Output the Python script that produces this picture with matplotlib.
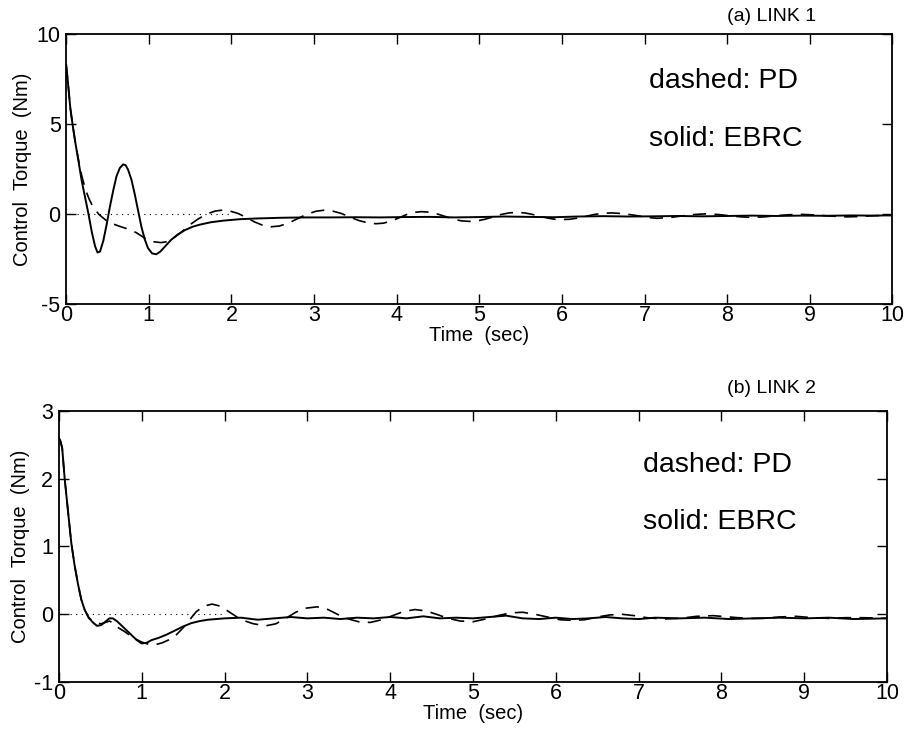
import matplotlib
matplotlib.use("Agg")
import matplotlib.pyplot as plt

plt.rcParams['font.family'] = ['Liberation Sans', 'DejaVu Sans']
plt.rcParams['axes.unicode_minus'] = False

# ---- data ----
# (a) LINK 1, solid: EBRC
t_ebrc1 = [0, 0.02, 0.05, 0.08, 0.11, 0.15, 0.19, 0.23, 0.27, 0.31, 0.35, 0.38, 0.41,
           0.45, 0.49, 0.53, 0.57, 0.61, 0.65, 0.69, 0.72, 0.75, 0.79, 0.83, 0.87, 0.91,
           0.95, 0.99, 1.04, 1.09, 1.14, 1.2, 1.27, 1.35, 1.44, 1.53, 1.62, 1.75, 1.9,
           2.1, 2.3, 2.6, 2.9, 3.2, 3.5, 3.8, 4.1, 4.4, 4.7, 5.0, 5.3, 5.6, 5.9, 6.2,
           6.5, 6.8, 7.1, 7.4, 7.7, 8.0, 8.3, 8.6, 8.9, 9.2, 9.5, 9.8, 10.0]
ebrc1 = [8.3, 7.4, 5.9, 4.9, 4.0, 2.9, 1.8, 0.9, 0.0, -1.0, -1.8, -2.15, -2.1,
         -1.5, -0.6, 0.4, 1.3, 2.1, 2.55, 2.75, 2.7, 2.45, 1.9, 1.1, 0.2, -0.7,
         -1.4, -1.9, -2.2, -2.25, -2.1, -1.8, -1.45, -1.15, -0.9, -0.72, -0.6, -0.47, -0.38,
         -0.3, -0.26, -0.22, -0.2, -0.2, -0.19, -0.2, -0.18, -0.17, -0.2, -0.18, -0.15, -0.17, -0.19, -0.15,
         -0.13, -0.15, -0.14, -0.12, -0.14, -0.12, -0.1, -0.12, -0.1, -0.11, -0.09, -0.1, -0.08]

# (a) LINK 1, dashed: PD
t_pd1 = [0, 0.02, 0.05, 0.08, 0.11, 0.15, 0.19, 0.23, 0.28, 0.33, 0.4, 0.48, 0.56, 0.65,
         0.75, 0.85, 0.95, 1.05, 1.15, 1.22, 1.3, 1.4, 1.5, 1.6, 1.7, 1.8, 1.88,
         1.98, 2.08, 2.18, 2.28, 2.38, 2.48, 2.58, 2.69, 2.8, 2.91, 3.02, 3.12,
         3.22, 3.33, 3.43, 3.54, 3.65, 3.75, 3.84, 3.93, 4.03, 4.12, 4.21, 4.3,
         4.4, 4.5, 4.59, 4.69, 4.78, 4.88, 4.98, 5.07, 5.17, 5.26, 5.36, 5.45,
         5.55, 5.64, 5.73, 5.82, 5.91, 6.0, 6.1, 6.2, 6.3, 6.4, 6.5, 6.6,
         6.75, 6.88, 7.02, 7.15, 7.3, 7.45, 7.6, 7.75, 7.9, 8.03, 8.17, 8.3,
         8.45, 8.6, 8.75, 8.9, 9.05, 9.2, 9.35, 9.45, 9.6, 9.8, 10.0]
pd1 = [8.3, 7.4, 5.9, 4.9, 4.0, 3.0, 2.1, 1.4, 0.8, 0.35, -0.05, -0.35, -0.55, -0.7,
       -0.85, -1.05, -1.35, -1.55, -1.6, -1.55, -1.35, -1.0, -0.6, -0.28, -0.02, 0.15, 0.2,
       0.16, 0.02, -0.2, -0.45, -0.64, -0.72, -0.68, -0.52, -0.27, -0.03, 0.14, 0.2,
       0.16, 0.02, -0.17, -0.37, -0.5, -0.55, -0.52, -0.41, -0.22, -0.04, 0.08, 0.12,
       0.09, -0.02, -0.15, -0.29, -0.39, -0.42, -0.39, -0.3, -0.17, -0.04, 0.05, 0.08,
       0.05, -0.03, -0.13, -0.23, -0.3, -0.32, -0.3, -0.23, -0.13, -0.03, 0.03, 0.05,
       0.01, -0.08, -0.19, -0.25, -0.21, -0.12, -0.04, 0.0, -0.04, -0.11, -0.17, -0.2,
       -0.17, -0.1, -0.05, -0.03, -0.06, -0.11, -0.15, -0.17, -0.15, -0.1, -0.08]

# (b) LINK 2, solid: EBRC
t_ebrc2 = [0, 0.02, 0.04, 0.07, 0.11, 0.15, 0.19, 0.23, 0.27, 0.31, 0.36, 0.41, 0.46,
           0.51, 0.56, 0.61, 0.65, 0.7, 0.76, 0.82, 0.88, 0.94, 1.0, 1.06, 1.12, 1.2,
           1.3, 1.4, 1.5, 1.6, 1.7, 1.8, 1.9, 2.0, 2.2, 2.4, 2.6, 2.8, 3.0, 3.2, 3.4,
           3.6, 3.8, 4.0, 4.2, 4.4, 4.6, 4.8, 5.0, 5.2, 5.4, 5.6, 5.8, 6.0, 6.2, 6.4,
           6.6, 6.8, 7.0, 7.2, 7.5, 7.8, 8.1, 8.4, 8.7, 9.0, 9.3, 9.6, 10.0]
ebrc2 = [2.6, 2.55, 2.45, 2.0, 1.52, 1.05, 0.72, 0.45, 0.22, 0.07, -0.05, -0.12, -0.17,
         -0.16, -0.11, -0.06, -0.06, -0.1, -0.17, -0.24, -0.31, -0.38, -0.43, -0.42, -0.38, -0.35,
         -0.3, -0.24, -0.18, -0.13, -0.1, -0.08, -0.07, -0.06, -0.05, -0.08, -0.06, -0.04, -0.06, -0.05, -0.07,
         -0.05, -0.06, -0.04, -0.06, -0.03, -0.06, -0.05, -0.06, -0.04, -0.02, -0.06, -0.07, -0.05, -0.07, -0.06,
         -0.04, -0.06, -0.07, -0.05, -0.06, -0.05, -0.07, -0.06, -0.05, -0.06, -0.05, -0.07, -0.06]

# (b) LINK 2, dashed: PD
t_pd2 = [0, 0.02, 0.04, 0.07, 0.11, 0.15, 0.19, 0.23, 0.27, 0.31, 0.36, 0.41, 0.46,
         0.51, 0.56, 0.61, 0.66, 0.72, 0.8, 0.9, 1.0, 1.08, 1.16, 1.25, 1.34, 1.42,
         1.5, 1.58, 1.66, 1.75, 1.85, 1.95, 2.05, 2.15, 2.25, 2.35, 2.5, 2.62, 2.74,
         2.86, 2.98, 3.12, 3.25, 3.38, 3.5, 3.62, 3.76, 3.9, 4.03, 4.16, 4.3, 4.43,
         4.56, 4.7, 4.85, 5.0, 5.15, 5.3, 5.45, 5.6, 5.75, 5.9, 6.05, 6.2, 6.35, 6.5,
         6.65, 6.8, 6.95, 7.1, 7.3, 7.5, 7.7, 7.9, 8.1, 8.3, 8.5, 8.7, 8.9, 9.1, 9.3,
         9.5, 9.7, 10.0]
pd2 = [2.6, 2.55, 2.45, 2.0, 1.52, 1.05, 0.72, 0.45, 0.22, 0.07, -0.05, -0.1, -0.13,
       -0.14, -0.12, -0.1, -0.13, -0.2, -0.26, -0.35, -0.41, -0.44, -0.45, -0.42, -0.37, -0.3,
       -0.2, -0.08, 0.04, 0.12, 0.15, 0.12, 0.04, -0.04, -0.1, -0.14, -0.17, -0.14, -0.06,
       0.03, 0.09, 0.11, 0.07, -0.01, -0.07, -0.11, -0.12, -0.08, -0.02, 0.04, 0.07, 0.05,
       0.0, -0.06, -0.1, -0.11, -0.07, -0.02, 0.02, 0.03, 0.0, -0.04, -0.08, -0.09, -0.08, -0.04,
       -0.01, 0.0, -0.02, -0.05, -0.07, -0.06, -0.03, -0.02, -0.04, -0.06, -0.06, -0.04, -0.03, -0.05, -0.06,
       -0.05, -0.05, -0.06]

# dotted zero reference (only drawn over the first 2 s)
t_ref = [0, 2.0]
ref = [0, 0]

xticks = list(range(0, 11))
yticks1 = [-5, 0, 5, 10]
yticks2 = [-1, 0, 1, 2, 3]

fig = plt.figure(figsize=(9.06, 7.39), dpi=100)
ax1 = fig.add_axes([0.073, 0.589, 0.912, 0.365])
ax2 = fig.add_axes([0.065, 0.077, 0.914, 0.367])

panels = [
    (ax1, t_ebrc1, ebrc1, t_pd1, pd1, (-5, 10), yticks1, '(a) LINK 1', 0.978, 0.825, 0.61),
    (ax2, t_ebrc2, ebrc2, t_pd2, pd2, (-1, 3), yticks2, '(b) LINK 2', 0.474, 0.80, 0.59),
]

for ax, ts, ys, td, yd, ylim, yt, title, ty, y_pd, y_eb in panels:
    ax.plot(t_ref, ref, color='black', linestyle=(0, (1, 4)), linewidth=0.8)
    ax.plot(td, yd, color='black', linewidth=1.2, dashes=(8, 5))
    ax.plot(ts, ys, color='black', linewidth=1.4)
    ax.set_xlim(0, 10)
    ax.set_ylim(*ylim)
    ax.set_xticks(xticks)
    ax.set_yticks(yt)
    ax.tick_params(direction='in', length=7, width=1, top=True, right=True,
                   labelsize=15.5)
    ax.tick_params(axis='x', pad=1)
    ax.tick_params(axis='y', pad=4)
    for sp in ax.spines.values():
        sp.set_linewidth(1.3)
    ax.set_xlabel('Time  (sec)', fontsize=14.5, labelpad=0)
    ax.set_ylabel('Control  Torque  (Nm)', fontsize=14.5, labelpad=3)
    ax.text(0.705, y_pd, 'dashed: PD', transform=ax.transAxes, fontsize=20.5,
            va='center', ha='left')
    ax.text(0.705, y_eb, 'solid: EBRC', transform=ax.transAxes, fontsize=20.5,
            va='center', ha='left')
    fig.text(0.852, ty, title, fontsize=14, ha='center', va='center')

fig.savefig('out.png', dpi=100)
